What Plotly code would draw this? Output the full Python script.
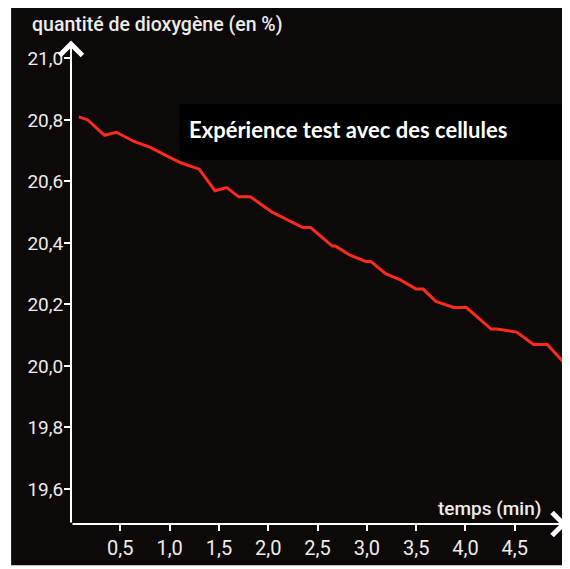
import plotly.graph_objects as go

# Data
temps = [0.08, 0.17, 0.34, 0.46, 0.64, 0.81, 0.99, 1.12, 1.30, 1.46, 1.58, 1.70, 1.82,
         2.04, 2.35, 2.43, 2.65, 2.68, 2.83, 2.99, 3.04, 3.19, 3.34, 3.50, 3.57, 3.70,
         3.88, 4.01, 4.26, 4.32, 4.52, 4.69, 4.83, 5.00, 5.05]
o2 = [20.81, 20.80, 20.75, 20.76, 20.73, 20.71, 20.68, 20.66, 20.64, 20.57, 20.58, 20.55, 20.55,
      20.50, 20.45, 20.45, 20.39, 20.39, 20.36, 20.34, 20.34, 20.30, 20.28, 20.25, 20.25, 20.21,
      20.19, 20.19, 20.12, 20.12, 20.11, 20.07, 20.07, 20.01, 20.01]

x_tickvals = [0.5, 1.0, 1.5, 2.0, 2.5, 3.0, 3.5, 4.0, 4.5]
x_ticktext = ["0,5", "1,0", "1,5", "2,0", "2,5", "3,0", "3,5", "4,0", "4,5"]
y_tickvals = [19.6, 19.8, 20.0, 20.2, 20.4, 20.6, 20.8, 21.0]
y_ticktext = ["19,6", "19,8", "20,0", "20,2", "20,4", "20,6", "20,8", "21,0"]

y_title = "quantité de dioxygène (en %)"
x_title = "temps (min)"
box_text = "Expérience test avec des cellules"

X_MIN, X_MAX = 0.0, 5.06
Y_MIN, Y_MAX = 19.486, 21.06
X_ARROW, Y_ARROW = 5.03, 21.058

FONT = "Roboto, Open Sans, sans-serif"
TXT = "#ececec"

fig = go.Figure()
fig.add_trace(go.Scatter(x=temps, y=o2, mode="lines",
                         line=dict(color="#ff2a1c", width=3), hoverinfo="skip"))

fig.update_layout(
    width=562, height=561,
    margin=dict(l=63, r=0, t=32, b=45),
    paper_bgcolor="white", plot_bgcolor="rgba(0,0,0,0)",
    showlegend=False,
    xaxis=dict(range=[X_MIN, X_MAX], showgrid=False, zeroline=False, showline=False,
               tickvals=x_tickvals, ticktext=x_ticktext, ticks="outside", ticklen=6,
               tickwidth=2, tickcolor="white",
               tickfont=dict(family=FONT, size=20, color=TXT)),
    yaxis=dict(range=[Y_MIN, Y_MAX], showgrid=False, zeroline=False, showline=False,
               tickvals=y_tickvals, ticktext=y_ticktext, ticks="outside", ticklen=6,
               tickwidth=2, tickcolor="white", ticklabelstandoff=-3,
               tickfont=dict(family=FONT, size=19, color=TXT)),
    shapes=[
        # dark photographed page
        dict(type="rect", xref="paper", yref="paper", x0=-0.12, x1=1.0, y0=-0.085, y1=1.1,
             fillcolor="#0c0908", line=dict(width=0), layer="below"),
        # label box
        dict(type="rect", xref="paper", yref="paper", x0=0.218, x1=1.0, y0=0.752, y1=0.868,
             fillcolor="black", line=dict(width=0), layer="above"),
    ],
    annotations=[
        # y axis with arrow
        dict(x=0, y=Y_ARROW, ax=0, ay=Y_MIN, xref="x", yref="y", axref="x", ayref="y",
             showarrow=True, arrowhead=4, arrowsize=2.2, arrowwidth=2, arrowcolor="white",
             text=""),
        # x axis with arrow
        dict(x=X_ARROW, y=Y_MIN, ax=0, ay=Y_MIN, xref="x", yref="y", axref="x", ayref="y",
             showarrow=True, arrowhead=4, arrowsize=2.2, arrowwidth=2, arrowcolor="white",
             text=""),
        dict(x=-0.082, y=1.033, xref="paper", yref="paper", xanchor="left", yanchor="middle",
             text=y_title, showarrow=False,
             font=dict(family=FONT, size=19.5, color=TXT, weight=500)),
        dict(x=0.731, y=0.031, xref="paper", yref="paper", xanchor="left", yanchor="middle",
             text=x_title, showarrow=False,
             font=dict(family=FONT, size=19, color=TXT, weight=500)),
        dict(x=0.232, y=0.816, xref="paper", yref="paper", xanchor="left", yanchor="middle",
             text="<b>" + box_text + "</b>", showarrow=False,
             font=dict(family="Lato, Open Sans, sans-serif", size=22, color="white")),
    ],
)

fig.write_html("out.html")
